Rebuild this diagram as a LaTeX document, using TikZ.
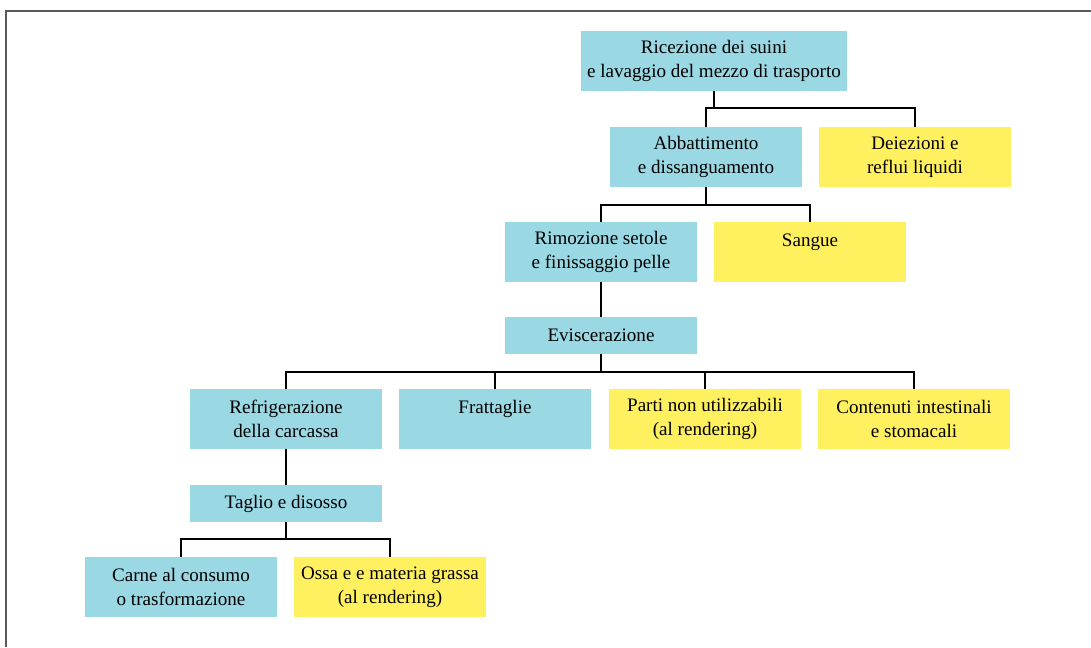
\documentclass[tikz,border=0pt]{standalone}
\usepackage{fontspec}
\setmainfont{Liberation Serif}
\definecolor{boxblue}{RGB}{154,216,228}
\definecolor{boxyellow}{RGB}{255,240,96}
\definecolor{framegray}{RGB}{90,90,90}
\tikzset{
  box/.style={anchor=north west, inner sep=0pt, outer sep=0pt, align=center,
    minimum width=144pt, minimum height=45pt,
    font=\fontsize{14.3}{18}\selectfont},
  bluebox/.style={box, fill=boxblue},
  yellowbox/.style={box, fill=boxyellow},
  short/.style={minimum height=27.75pt},
  conn/.style={draw=black, line width=1.1pt}
}
\begin{document}
\begin{tikzpicture}[x=0.75pt,y=-0.75pt]
\useasboundingbox (0,0) rectangle (1091,647);
\draw[framegray, line width=1pt] (6,647) -- (6,11) -- (1091,11);

\node[bluebox, minimum width=199.5pt] (rec) at (581,31) {Ricezione dei suini\\e lavaggio del mezzo di trasporto};
\node[bluebox] (abb) at (610,127) {Abbattimento\\e dissanguamento};
\node[yellowbox] (dei) at (819,127) {Deiezioni e\\reflui liquidi};
\node[bluebox] (rim) at (505,222) {Rimozione setole\\e finissaggio pelle};
\node[yellowbox] (san) at (714,222) {Sangue\\\mbox{}};
\node[bluebox, short] (evi) at (505,317) {Eviscerazione};
\node[bluebox] (ref) at (190,389) {Refrigerazione\\della carcassa};
\node[bluebox] (fra) at (399,389) {Frattaglie\\\mbox{}};
\node[yellowbox] (par) at (609,389) {Parti non utilizzabili\\(al rendering)};
\node[yellowbox] (con) at (818,389) {Contenuti intestinali\\e stomacali};
\node[bluebox, short] (tag) at (190,485) {Taglio e disosso};
\node[bluebox] (car) at (85,557) {Carne al consumo\\o trasformazione};
\node[yellowbox] (oss) at (294,557) {Ossa e e materia grassa\\(al rendering)};

\draw[conn] (rec.south) -- ++(0,17) coordinate (j1);
\draw[conn] (j1) -| (abb.north);
\draw[conn] (j1) -| (dei.north);

\draw[conn] (abb.south) -- ++(0,18) coordinate (j2);
\draw[conn] (j2) -| (rim.north);
\draw[conn] (j2) -| (san.north);

\draw[conn] (rim.south) -- (evi.north);

\draw[conn] (evi.south) -- ++(0,18) coordinate (j3);
\draw[conn] (j3) -| (ref.north);
\draw[conn] (j3) -| (fra.north);
\draw[conn] (j3) -| (par.north);
\draw[conn] (j3) -| (con.north);

\draw[conn] (ref.south) -- (tag.north);

\draw[conn] (tag.south) -- ++(0,17) coordinate (j4);
\draw[conn] (j4) -| (car.north);
\draw[conn] (j4) -| (oss.north);
\end{tikzpicture}
\end{document}
